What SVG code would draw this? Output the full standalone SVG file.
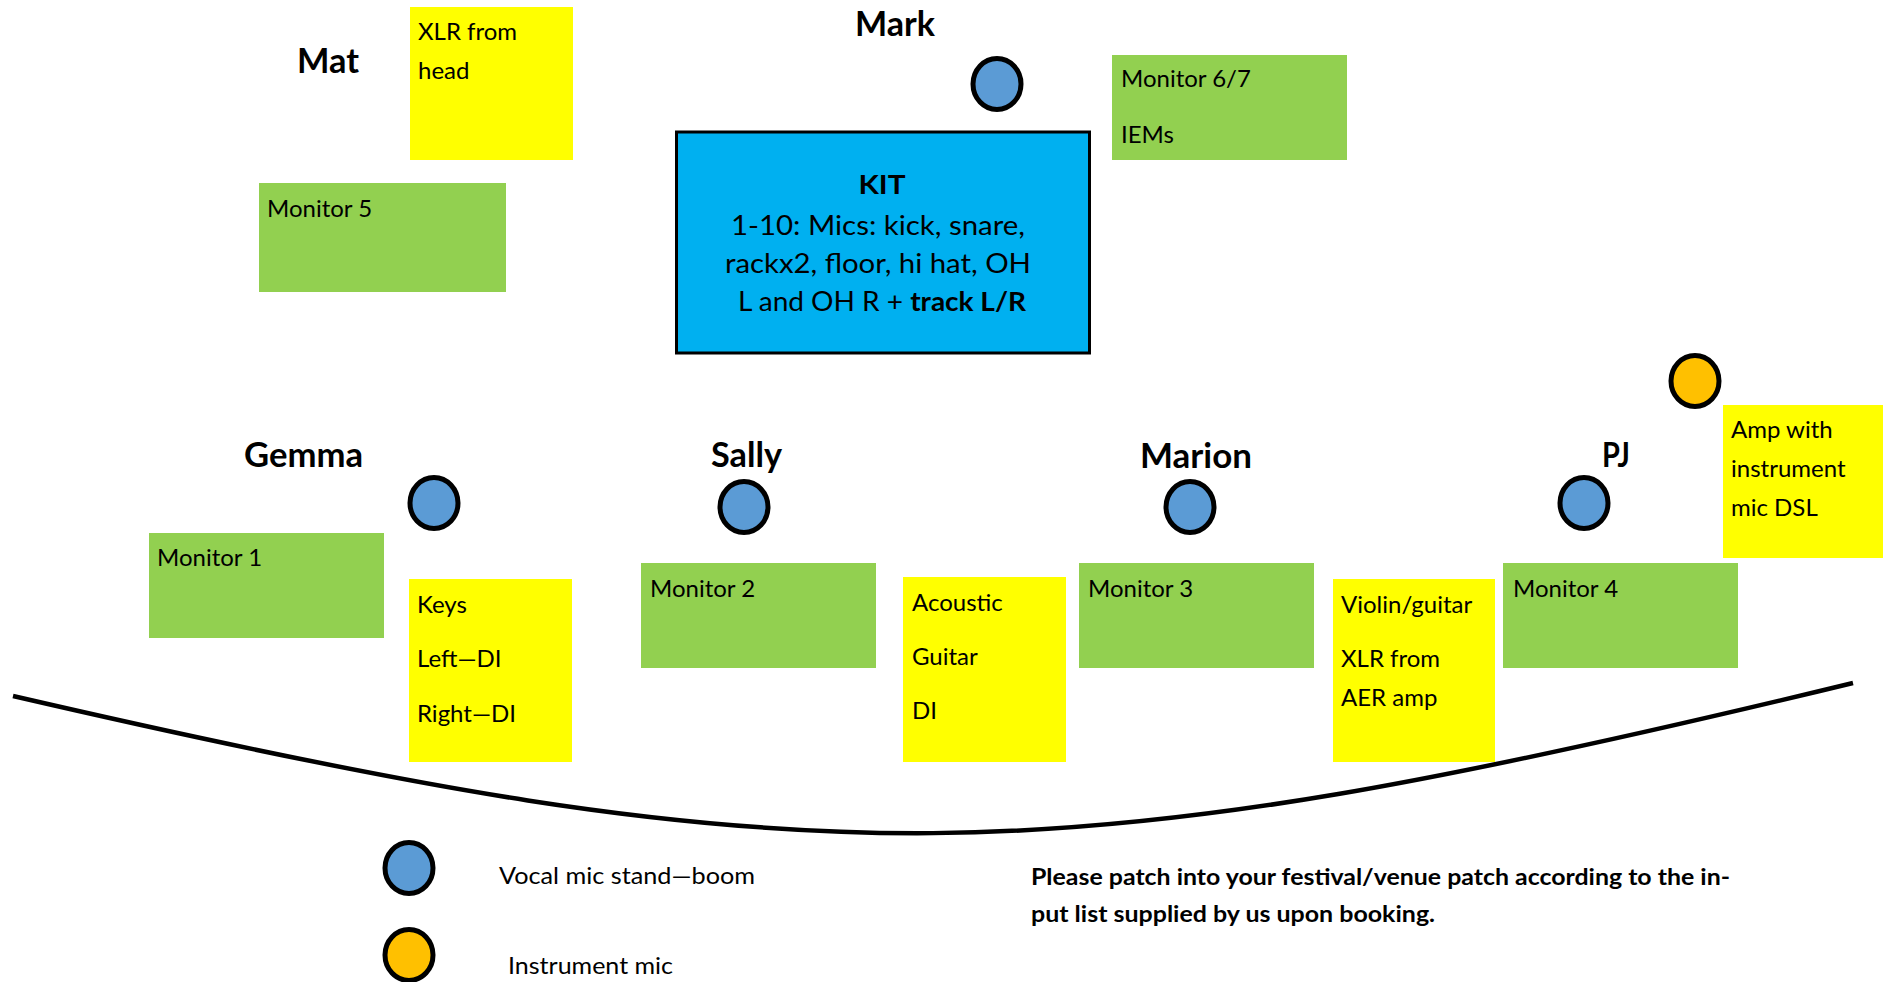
<svg xmlns="http://www.w3.org/2000/svg" width="1883" height="982" viewBox="0 0 1883 982">
<style>
  text { font-family: Lato, "Open Sans", "Liberation Sans", sans-serif; fill: #000; }
  .name { font-size: 35px; font-weight: bold; text-anchor: middle; }
  .t { font-size: 24px; }
  .kit { font-size: 27px; text-anchor: middle; }
  .leg { font-size: 23px; }
  .note { font-size: 22px; font-weight: bold; }
  .green { fill: #92D050; }
  .yellow { fill: #FFFF00; }
  .vocal { fill: #5B9BD5; stroke: #000; stroke-width: 5; }
  .inst { fill: #FFC000; stroke: #000; stroke-width: 5; }
</style>
<rect width="1883" height="982" fill="#fff"/>

<g id="stage-edge">
  <path d="M13,696 C821,883 1045,879 1853,683" fill="none" stroke="#000" stroke-width="4.5"/>
</g>

<g id="mat">
  <text class="name" x="328" y="73" textLength="62" lengthAdjust="spacingAndGlyphs">Mat</text>
</g>
<g id="mat-xlr">
  <rect class="yellow" x="410" y="7" width="163" height="153"/>
  <text class="t" x="418" y="40">XLR from</text>
  <text class="t" x="418" y="79">head</text>
</g>
<g id="monitor5">
  <rect class="green" x="259" y="183" width="247" height="109"/>
  <text class="t" x="267" y="217">Monitor 5</text>
</g>

<g id="mark">
  <text class="name" x="895" y="36" textLength="80" lengthAdjust="spacingAndGlyphs">Mark</text>
</g>
<g id="mark-mic">
  <ellipse class="vocal" cx="997" cy="84" rx="24" ry="25.5"/>
</g>
<g id="monitor67">
  <rect class="green" x="1112" y="55" width="235" height="105"/>
  <text class="t" x="1121" y="87">Monitor 6/7</text>
  <text class="t" x="1121" y="143">IEMs</text>
</g>
<g id="kit">
  <rect x="676.5" y="132" width="413" height="221" fill="#00B0F0" stroke="#000" stroke-width="3"/>
  <text class="kit" x="882" y="194" font-weight="bold" font-size="32" textLength="47" lengthAdjust="spacingAndGlyphs">KIT</text>
  <text class="kit" x="878" y="235" textLength="294" lengthAdjust="spacingAndGlyphs">1-10: Mics: kick, snare,</text>
  <text class="kit" x="878" y="273" textLength="306" lengthAdjust="spacingAndGlyphs">rackx2, floor, hi hat, OH</text>
  <text class="kit" x="882" y="311" textLength="288" lengthAdjust="spacingAndGlyphs">L and OH R + <tspan font-weight="bold">track L/R</tspan></text>
</g>

<g id="gemma">
  <text class="name" x="303.5" y="467" textLength="119" lengthAdjust="spacingAndGlyphs">Gemma</text>
  <ellipse class="vocal" cx="434" cy="503" rx="24" ry="25.5"/>
</g>
<g id="monitor1">
  <rect class="green" x="149" y="533" width="235" height="105"/>
  <text class="t" x="157" y="566">Monitor 1</text>
</g>
<g id="keys">
  <rect class="yellow" x="409" y="579" width="163" height="183"/>
  <text class="t" x="417" y="613">Keys</text>
  <text class="t" x="417" y="667">Left—DI</text>
  <text class="t" x="417" y="722">Right—DI</text>
</g>

<g id="sally">
  <text class="name" x="746.5" y="467" textLength="71" lengthAdjust="spacingAndGlyphs">Sally</text>
  <ellipse class="vocal" cx="744" cy="507" rx="24" ry="25.5"/>
</g>
<g id="monitor2">
  <rect class="green" x="641" y="563" width="235" height="105"/>
  <text class="t" x="650" y="597">Monitor 2</text>
</g>
<g id="acoustic">
  <rect class="yellow" x="903" y="577" width="163" height="185"/>
  <text class="t" x="912" y="611">Acoustic</text>
  <text class="t" x="912" y="665">Guitar</text>
  <text class="t" x="912" y="719">DI</text>
</g>

<g id="marion">
  <text class="name" x="1196" y="468" textLength="112" lengthAdjust="spacingAndGlyphs">Marion</text>
  <ellipse class="vocal" cx="1190" cy="507" rx="24" ry="25.5"/>
</g>
<g id="monitor3">
  <rect class="green" x="1079" y="563" width="235" height="105"/>
  <text class="t" x="1088" y="597">Monitor 3</text>
</g>
<g id="violin">
  <rect class="yellow" x="1333" y="579" width="162" height="183"/>
  <text class="t" x="1341" y="613">Violin/guitar</text>
  <text class="t" x="1341" y="667">XLR from</text>
  <text class="t" x="1341" y="706">AER amp</text>
</g>

<g id="pj">
  <text class="name" x="1616" y="467" textLength="28" lengthAdjust="spacingAndGlyphs">PJ</text>
  <ellipse class="vocal" cx="1584" cy="503" rx="24" ry="25.5"/>
</g>
<g id="monitor4">
  <rect class="green" x="1503" y="563" width="235" height="105"/>
  <text class="t" x="1513" y="597">Monitor 4</text>
</g>
<g id="amp-mic">
  <ellipse class="inst" cx="1695" cy="381" rx="24" ry="25.5"/>
</g>
<g id="amp">
  <rect class="yellow" x="1723" y="405" width="160" height="153"/>
  <text class="t" x="1731" y="438">Amp with</text>
  <text class="t" x="1731" y="477">instrument</text>
  <text class="t" x="1731" y="516">mic DSL</text>
</g>

<g id="legend">
  <ellipse class="vocal" cx="409" cy="868" rx="24" ry="25.5"/>
  <text class="leg" x="499" y="884" textLength="256" lengthAdjust="spacingAndGlyphs">Vocal mic stand—boom</text>
  <ellipse class="inst" cx="409" cy="955" rx="24" ry="25.5"/>
  <text class="leg" x="508" y="974" textLength="165" lengthAdjust="spacingAndGlyphs">Instrument mic</text>
</g>
<g id="note">
  <text class="note" x="1031" y="885" textLength="699" lengthAdjust="spacingAndGlyphs">Please patch into your festival/venue patch according to the in-</text>
  <text class="note" x="1031" y="922" textLength="404" lengthAdjust="spacingAndGlyphs">put list supplied by us upon booking.</text>
</g>
</svg>
